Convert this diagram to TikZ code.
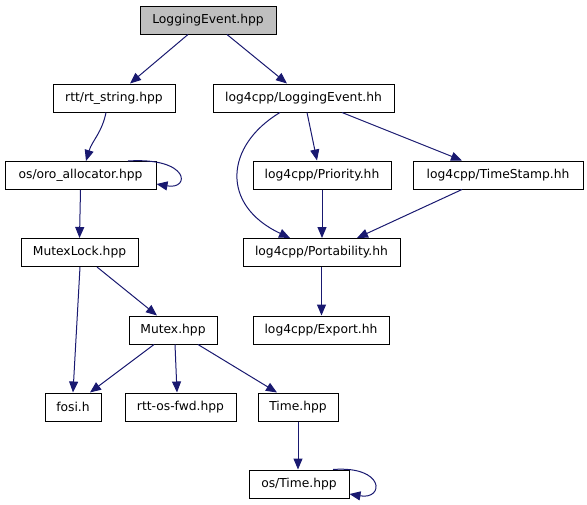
\documentclass[tikz,border=0pt]{standalone}
\usepackage{fontspec}
\setmainfont{DejaVu Sans}
\usepackage{tikz}
\usetikzlibrary{arrows.meta, positioning, calc}
\definecolor{edgeblue}{RGB}{25, 25, 112}
\definecolor{rootgray}{RGB}{191, 191, 191}

\begin{document}
\begin{tikzpicture}[x=1pt, y=-1pt, font=\fontsize{12.3}{14}\selectfont,
    hfile/.style={draw=black, line width=1pt, fill=white, inner sep=0pt, minimum height=28pt},
    incl/.style={draw=edgeblue, line width=1pt, -{Triangle[length=11pt, width=9pt]}}]
                \useasboundingbox (0, 0) rectangle (587, 504);
                % Header files
                \node[hfile, fill=rootgray, minimum width=136pt] (root) at (208, 20) {LoggingEvent.hpp};
                \node[hfile, minimum width=122pt] (rtstr) at (114, 98) {rtt/rt\_string.hpp};
                \node[hfile, minimum width=181pt] (lehh) at (303.5, 98) {log4cpp/LoggingEvent.hh};
                \node[hfile, minimum width=151pt] (alloc) at (80.5, 175.5) {os/oro\_allocator.hpp};
                \node[hfile, minimum width=138pt] (prio) at (322, 175) {log4cpp/Priority.hh};
                \node[hfile, minimum width=170pt] (tstamp) at (498, 175) {log4cpp/TimeStamp.hh};
                \node[hfile, minimum width=117pt] (mlock) at (79.5, 252.5) {MutexLock.hpp};
                \node[hfile, minimum width=157pt] (port) at (321.5, 252.5) {log4cpp/Portability.hh};
                \node[hfile, minimum width=88pt] (mutex) at (173, 330) {Mutex.hpp};
                \node[hfile, minimum width=136pt] (export) at (321, 330) {log4cpp/Export.hh};
                \node[hfile, minimum width=56pt] (fosi) at (73, 407) {fosi.h};
                \node[hfile, minimum width=111pt] (osfwd) at (180.5, 407) {rtt-os-fwd.hpp};
                \node[hfile, minimum width=80pt] (time) at (298, 407) {Time.hpp};
                \node[hfile, minimum width=100pt] (ostime) at (299, 484) {os/Time.hpp};

                % Include edges
                \draw[incl] ([xshift=-20pt]root.south) -- ([xshift=16pt]rtstr.north);
                \draw[incl] ([xshift=19pt]root.south) -- ([xshift=-16.5pt]lehh.north);
                \draw[incl] ([xshift=-8pt]rtstr.south) .. controls +(-4, 20) and +(6, -20) .. ([xshift=5.5pt]alloc.north);
                \draw[incl] ([xshift=47.5pt]alloc.north) .. controls +(62, -4) and +(34, 6) .. ([yshift=-8.5pt]alloc.east);
                \draw[incl] (alloc.south) -- (mlock.north);
                \draw[incl] ([xshift=-23.5pt]lehh.south) .. controls +(-55, 33) and +(-70, -33) .. ([xshift=-31.5pt]port.north);
                \draw[incl] ([xshift=3.5pt]lehh.south) -- ([xshift=-5pt]prio.north);
                \draw[incl] ([xshift=38.5pt]lehh.south) -- ([xshift=-36pt]tstamp.north);
                \draw[incl] (prio.south) -- (prio.south |- port.north);
                \draw[incl] ([xshift=-36pt]tstamp.south) -- ([xshift=35.5pt]port.north);
                \draw[incl] (port.south) -- (port.south |- export.north);
                \draw[incl] ([xshift=0.5pt]mlock.south) -- (fosi.north);
                \draw[incl] ([xshift=17.5pt]mlock.south) -- ([xshift=-16pt]mutex.north);
                \draw[incl] ([xshift=-19pt]mutex.south) -- ([xshift=17pt]fosi.north);
                \draw[incl] ([xshift=2pt]mutex.south) -- ([xshift=-3.5pt]osfwd.north);
                \draw[incl] ([xshift=25pt]mutex.south) -- ([xshift=-21pt]time.north);
                \draw[incl] (time.south) -- (time.south |- ostime.north);
                \draw[incl] ([xshift=34pt]ostime.north) .. controls +(52, -4) and +(35, 6) .. ([yshift=-10pt]ostime.east);
            \end{tikzpicture}
\end{document}
